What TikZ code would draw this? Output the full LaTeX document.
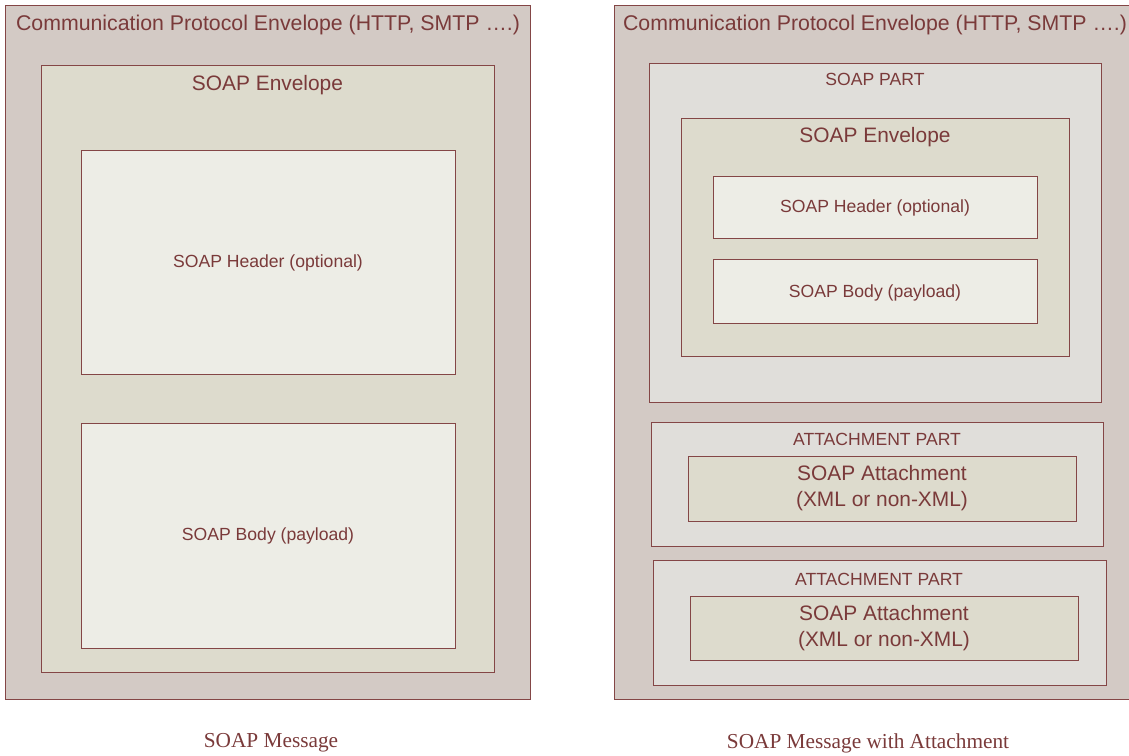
\documentclass[tikz,border=0pt]{standalone}
\usepackage{fontspec}
\setmainfont{Liberation Sans}
\newfontfamily\capfont{Liberation Serif}
\definecolor{txt}{HTML}{7A3A3A}
\definecolor{brd}{HTML}{844646}
\definecolor{fouter}{HTML}{D3CAC5}
\definecolor{fpart}{HTML}{E0DEDA}
\definecolor{fenv}{HTML}{DDDBCD}
\definecolor{fin}{HTML}{EDEDE6}
\tikzset{
  box/.style={draw=brd, line width=1pt, inner sep=0pt, anchor=north west},
  lbl/.style={text=txt, inner sep=0pt, anchor=center},
  bigtxt/.style={font=\fontsize{21.3}{25}\selectfont},
  midtxt/.style={font=\fontsize{20.9}{26}\selectfont},
  smltxt/.style={font=\fontsize{17.6}{21}\selectfont},
  captxt/.style={font=\capfont\fontsize{21.3}{25}\selectfont},
}
\newcommand{\rbox}[6]{% name, x1, y1, x2, y2, fill
  \node[box, fill=#6, minimum width={#4-#2}, minimum height={#5-#3}] (#1) at (#2,#3) {};}
\begin{document}
\begin{tikzpicture}[x=1pt, y=-1pt]
\useasboundingbox (0,0) rectangle (1129,755);
% left
\rbox{lout}{5}{5}{530}{699}{fouter}
\node[lbl, bigtxt] (loutl) at (268,25) {Communication Protocol Envelope (HTTP, SMTP ….)};
\rbox{lenv}{41}{65}{494}{672}{fenv}
\node[lbl, midtxt] (lenvl) at (267.5,85) {SOAP Envelope};
\rbox{lhead}{81}{150}{455}{374}{fin}
\node[lbl, smltxt] (lheadl) at (268,263) {SOAP Header (optional)};
\rbox{lbody}{81}{423}{455}{648}{fin}
\node[lbl, smltxt] (lbodyl) at (268,536) {SOAP Body (payload)};
\node[lbl, captxt] (lcap) at (271,743) {SOAP Message};
% right
\rbox{rout}{614}{5}{1132}{699}{fouter}
\node[lbl, bigtxt] (routl) at (875,25) {Communication Protocol Envelope (HTTP, SMTP ….)};
\rbox{rpart}{649}{63}{1101}{402}{fpart}
\node[lbl, smltxt] (rpartl) at (875,79) {SOAP PART};
\rbox{renv}{681}{118}{1069}{356}{fenv}
\node[lbl, midtxt] (renvl) at (875,137) {SOAP Envelope};
\rbox{rhead}{713}{176}{1037}{238}{fin}
\node[lbl, smltxt] (rheadl) at (875,208) {SOAP Header (optional)};
\rbox{rbody}{713}{259}{1037}{323}{fin}
\node[lbl, smltxt] (rbodyl) at (875,293) {SOAP Body (payload)};
\rbox{att1}{651}{422}{1103}{546}{fpart}
\node[lbl, smltxt] (att1l) at (877,439) {ATTACHMENT PART};
\rbox{att1i}{688}{456}{1076}{521}{fenv}
\node[lbl, midtxt, align=center] (att1t) at (882,488) {SOAP Attachment\\(XML or non-XML)};
\rbox{att2}{653}{560}{1106}{685}{fpart}
\node[lbl, smltxt] (att2l) at (879,579) {ATTACHMENT PART};
\rbox{att2i}{690}{596}{1078}{660}{fenv}
\node[lbl, midtxt, align=center] (att2t) at (884,628) {SOAP Attachment\\(XML or non-XML)};
\node[lbl, captxt] (rcap) at (868,743) {SOAP Message with Attachment};
\end{tikzpicture}
\end{document}
